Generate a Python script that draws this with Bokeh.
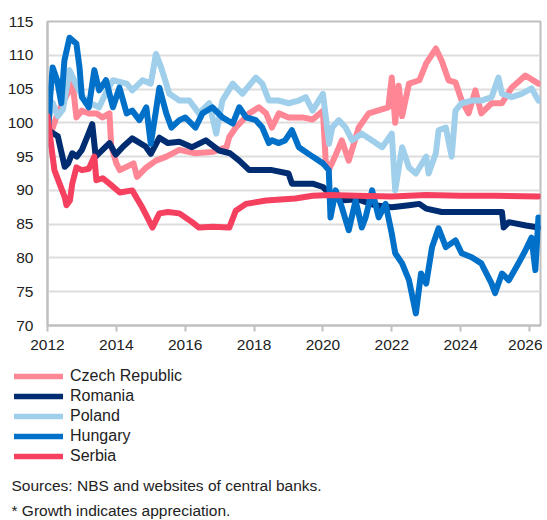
from bokeh.plotting import figure
from bokeh.models import FixedTicker, Legend, LegendItem, Label
from bokeh.layouts import column
from bokeh.embed import file_html
from bokeh.resources import INLINE

# ---------------- data (decimal years, index values) ----------------
x_ticks = [2012, 2014, 2016, 2018, 2020, 2022, 2024, 2026]
x_tick_labels = ["2012", "2014", "2016", "2018", "2020", "2022", "2024", "2026"]
y_ticks = [70, 75, 80, 85, 90, 95, 100, 105, 110, 115]

names = ["Czech Republic", "Romania", "Poland", "Hungary", "Serbia"]
colors = ["#FF8694", "#002D72", "#9FCFEB", "#0070C8", "#F5405F"]

czech_t = [2012.0, 2012.1, 2012.3, 2012.5, 2012.73, 2012.84, 2013.0, 2013.2, 2013.42, 2013.6, 2013.8,
           2013.85, 2014.0, 2014.1, 2014.5, 2014.6, 2014.87, 2015.15, 2015.45, 2015.83, 2016.3, 2016.8,
           2017.2, 2017.28, 2017.47, 2017.86, 2018.14, 2018.35, 2018.52, 2018.72, 2019.0, 2019.4, 2019.7,
           2020.0, 2020.08, 2020.17, 2020.35, 2020.55, 2020.75, 2021.04, 2021.33, 2021.9, 2022.0, 2022.1,
           2022.2, 2022.3, 2022.5, 2022.8, 2023.0, 2023.28, 2023.45, 2023.65, 2023.85, 2024.03, 2024.23,
           2024.43, 2024.6, 2024.9, 2025.2, 2025.48, 2025.88, 2026.26]
czech_v = [100, 98.5, 101.5, 103.5, 105.8, 100.8, 101.8, 101.4, 101.4, 100.8, 101.4,
           96.6, 94, 93, 94, 92, 93.4, 94.4, 95, 96, 95.5, 95.7,
           96.4, 97.9, 99.3, 101.4, 102.3, 101.4, 99.3, 101.4, 100.8, 100.8, 100.5,
           101.8, 94.4, 93, 95, 97.4, 94.4, 99.3, 101.4, 102.3, 106.7, 100,
           105.5, 101, 105.8, 106.3, 108.8, 111, 109.2, 106.3, 106, 103.3, 101.4,
           104.8, 101.4, 102.9, 102.9, 105.2, 107, 105.8]

romania_t = [2012.0, 2012.15, 2012.3, 2012.5, 2012.6, 2012.72, 2012.85, 2013.0, 2013.2, 2013.3, 2013.4,
             2013.5, 2013.8, 2013.98, 2014.2, 2014.46, 2014.85, 2015.0, 2015.25, 2015.5, 2015.83, 2016.2,
             2016.6, 2016.99, 2017.3, 2017.57, 2017.86, 2018.52, 2019.0, 2019.1, 2019.7, 2020.0, 2020.2,
             2020.5, 2021.0, 2021.5, 2022.0, 2022.5, 2022.8, 2023.0, 2023.45, 2024.0, 2024.6, 2025.2,
             2025.25, 2025.4, 2025.9, 2026.26]
romania_v = [99, 98.5, 98, 93.5, 94, 95.5, 95, 96, 98.5, 99.8, 95,
             95.5, 97, 95.3, 96.5, 97.7, 96.5, 95.4, 97.8, 97, 97.2, 96.4,
             97.4, 95.9, 95.5, 94.4, 93, 93, 92.5, 91, 91, 90.5, 89.5,
             88.5, 88.7, 87.8, 87.5, 87.8, 88, 87.3, 86.8, 86.8, 86.8, 86.8,
             84.5, 85.3, 84.8, 84.5]

poland_t = [2012.0, 2012.15, 2012.3, 2012.45, 2012.64, 2012.8, 2013.0, 2013.2, 2013.5, 2013.7, 2013.9,
            2014.3, 2014.46, 2014.76, 2015.0, 2015.15, 2015.3, 2015.54, 2015.83, 2016.12, 2016.4, 2016.7,
            2016.9, 2017.08, 2017.38, 2017.66, 2018.05, 2018.24, 2018.43, 2018.72, 2019.0, 2019.3, 2019.5,
            2019.7, 2020.0, 2020.18, 2020.27, 2020.46, 2020.66, 2020.85, 2021.13, 2021.43, 2021.72, 2022.0,
            2022.1, 2022.3, 2022.5, 2022.7, 2023.0, 2023.07, 2023.28, 2023.36, 2023.57, 2023.74, 2023.85,
            2024.03, 2024.32, 2024.6, 2024.9, 2025.1, 2025.2, 2025.48, 2025.77, 2026.06, 2026.26]
poland_v = [100, 103, 101, 102, 107.8, 106, 104, 103, 102.3, 104.5, 106.3,
            105.8, 104.8, 106.3, 105.8, 110.2, 108.2, 104.3, 103.3, 103.3, 101.4, 102.9,
            98.4, 103.3, 105.8, 104.3, 106.7, 105.8, 103.3, 103.3, 102.9, 103.3, 103.8,
            101.8, 104.3, 96.9, 99.3, 100.4, 99.3, 97.4, 98.4, 97.4, 96.4, 98.4,
            90, 96.4, 93.4, 92.5, 95, 92.5, 95.5, 98.9, 99.3, 95, 101.8,
            102.9, 103.3, 103.3, 103.8, 106.7, 104.3, 103.8, 104.3, 105.1, 103.3]

hungary_t = [2012.0, 2012.08, 2012.15, 2012.28, 2012.4, 2012.49, 2012.64, 2012.84, 2012.93, 2013.0, 2013.2,
             2013.36, 2013.5, 2013.7, 2013.9, 2014.09, 2014.3, 2014.46, 2014.67, 2014.87, 2015.0, 2015.15,
             2015.25, 2015.45, 2015.6, 2015.83, 2016.0, 2016.3, 2016.5, 2016.79, 2017.08, 2017.38, 2017.57,
             2017.77, 2018.05, 2018.24, 2018.43, 2018.52, 2018.72, 2018.9, 2019.1, 2019.3, 2019.7, 2020.0,
             2020.17, 2020.22, 2020.37, 2020.55, 2020.75, 2020.95, 2021.13, 2021.24, 2021.43, 2021.62, 2021.82,
             2022.0, 2022.1, 2022.3, 2022.5, 2022.7, 2022.85, 2023.0, 2023.17, 2023.36, 2023.57, 2023.85,
             2024.03, 2024.32, 2024.6, 2024.9, 2025.0, 2025.2, 2025.4, 2025.68, 2025.88, 2026.06, 2026.17,
             2026.26]
hungary_v = [96.9, 104, 108.2, 106.3, 102.9, 109.2, 112.6, 111.7, 108.2, 103.8, 102.3,
             107.8, 104.8, 106.3, 102.3, 105.2, 101.4, 101.8, 100.4, 102.3, 96.9, 101.8,
             105.2, 101.4, 99.3, 100.4, 100.8, 99.3, 101.4, 102.3, 100.8, 99.9, 102.3,
             100.8, 100.4, 99.3, 97, 97.4, 97, 97.4, 98.9, 96.4, 95, 94,
             93, 86, 90, 87.5, 84.1, 88.5, 84.5, 86, 90, 86, 88,
             83.6, 80.7, 79.2, 76.7, 71.8, 77.7, 76.2, 81.6, 84.4, 81.6, 82.6,
             80.7, 80.1, 79.2, 76.2, 74.8, 77.7, 76.7, 79.2, 81.1, 83, 78.2,
             86]

serbia_t = [2012.0, 2012.1, 2012.2, 2012.35, 2012.5, 2012.55, 2012.65, 2012.72, 2012.84, 2013.0, 2013.2,
            2013.36, 2013.42, 2013.6, 2013.8, 2014.1, 2014.46, 2014.75, 2014.9, 2015.05, 2015.25, 2015.5,
            2015.83, 2016.2, 2016.4, 2016.8, 2017.28, 2017.47, 2017.76, 2018.35, 2019.2, 2019.7, 2020.2,
            2021.0, 2022.0, 2023.0, 2024.0, 2025.0, 2026.26]
serbia_v = [101, 97, 93, 91, 89, 87.8, 88.5, 91, 93.4, 93, 93.2,
            95, 91.5, 91.8, 91, 89.7, 90, 87.5, 86, 84.5, 86.6, 86.8,
            86.6, 85.3, 84.5, 84.6, 84.5, 87, 88, 88.5, 88.8, 89.2, 89.3,
            89.2, 89.1, 89.3, 89.2, 89.2, 89.1]

series_t = [czech_t, romania_t, poland_t, hungary_t, serbia_t]
series_v = [czech_v, romania_v, poland_v, hungary_v, serbia_v]

sources_text = "Sources:  NBS and  websites  of  central  banks."
note_text = "* Growth indicates  appreciation."

# ---------------- chart figure ----------------
FONT = "Liberation Sans"
TXT = "#222222"
LW = 6
W = 542
p = figure(width=W, height=358, output_backend="svg", toolbar_location=None,
           x_range=(2012, 2026.32), y_range=(70, 115),
           min_border_left=47, min_border_right=2, min_border_top=21, min_border_bottom=33)
p.outline_line_color = "#BFBFBF"
p.outline_line_width = 2
p.background_fill_color = "white"
p.border_fill_color = "white"

p.xgrid.visible = False
p.ygrid.grid_line_color = "#DDDDDD"
p.ygrid.grid_line_width = 2
p.ygrid.ticker = FixedTicker(ticks=y_ticks)

p.xaxis.ticker = FixedTicker(ticks=x_ticks)
p.xaxis.major_label_overrides = {t: l for t, l in zip(x_ticks, x_tick_labels)}
p.yaxis.ticker = FixedTicker(ticks=y_ticks)
for ax in (p.xaxis, p.yaxis):
    ax.axis_line_color = "#BFBFBF"
    ax.axis_line_width = 2
    ax.major_tick_line_color = "#BFBFBF"
    ax.major_tick_line_width = 2
    ax.minor_tick_line_color = None
    ax.major_label_text_font = FONT
    ax.major_label_text_font_size = "15.5px"
    ax.major_label_text_color = TXT
p.xaxis.major_tick_out = 6
p.xaxis.major_tick_in = 0
p.xaxis.major_label_standoff = 8
p.yaxis.major_tick_out = 0
p.yaxis.major_tick_in = 0
p.yaxis.major_label_standoff = 14

for t, v, c in zip(series_t, series_v, colors):
    p.line(t, v, line_color=c, line_width=LW, line_join="round", line_cap="round")

# ---------------- legend / notes figure ----------------
q = figure(width=W, height=162, output_backend="svg", toolbar_location=None,
           x_range=(0, 1), y_range=(0, 1), x_axis_location=None, y_axis_location=None,
           min_border_left=0, min_border_right=0, min_border_top=0, min_border_bottom=0)
q.grid.visible = False
q.outline_line_color = None
q.background_fill_color = "white"
q.border_fill_color = "white"

# keep the two figures' frames independent (legend sits left of the chart frame)
for fig in (p, q):
    try:
        fig.frame_align = False
    except Exception:
        pass

nan = float("nan")
legend_renderers = [q.line([nan], [nan], line_color=c, line_width=5.5, line_cap="round") for c in colors]
legend = Legend(items=[LegendItem(label=n, renderers=[r]) for n, r in zip(names, legend_renderers)],
                location=(14, 55), orientation="vertical",
                glyph_width=49, glyph_height=14, label_height=14, spacing=2,
                label_standoff=7, padding=0, margin=0,
                label_text_font=FONT, label_text_font_size="16px", label_text_color=TXT,
                border_line_color=None, background_fill_alpha=0)
q.add_layout(legend, "center")

q.add_layout(Label(x=11, y=35, x_units="screen", y_units="screen", text=sources_text,
                   text_font=FONT, text_font_size="15.5px", text_color=TXT,
                   text_baseline="alphabetic"))
q.add_layout(Label(x=11, y=10, x_units="screen", y_units="screen", text=note_text,
                   text_font=FONT, text_font_size="15.5px", text_color=TXT,
                   text_baseline="alphabetic"))

layout = column(p, q, spacing=0)
open("out.html", "w").write(file_html(layout, INLINE))
